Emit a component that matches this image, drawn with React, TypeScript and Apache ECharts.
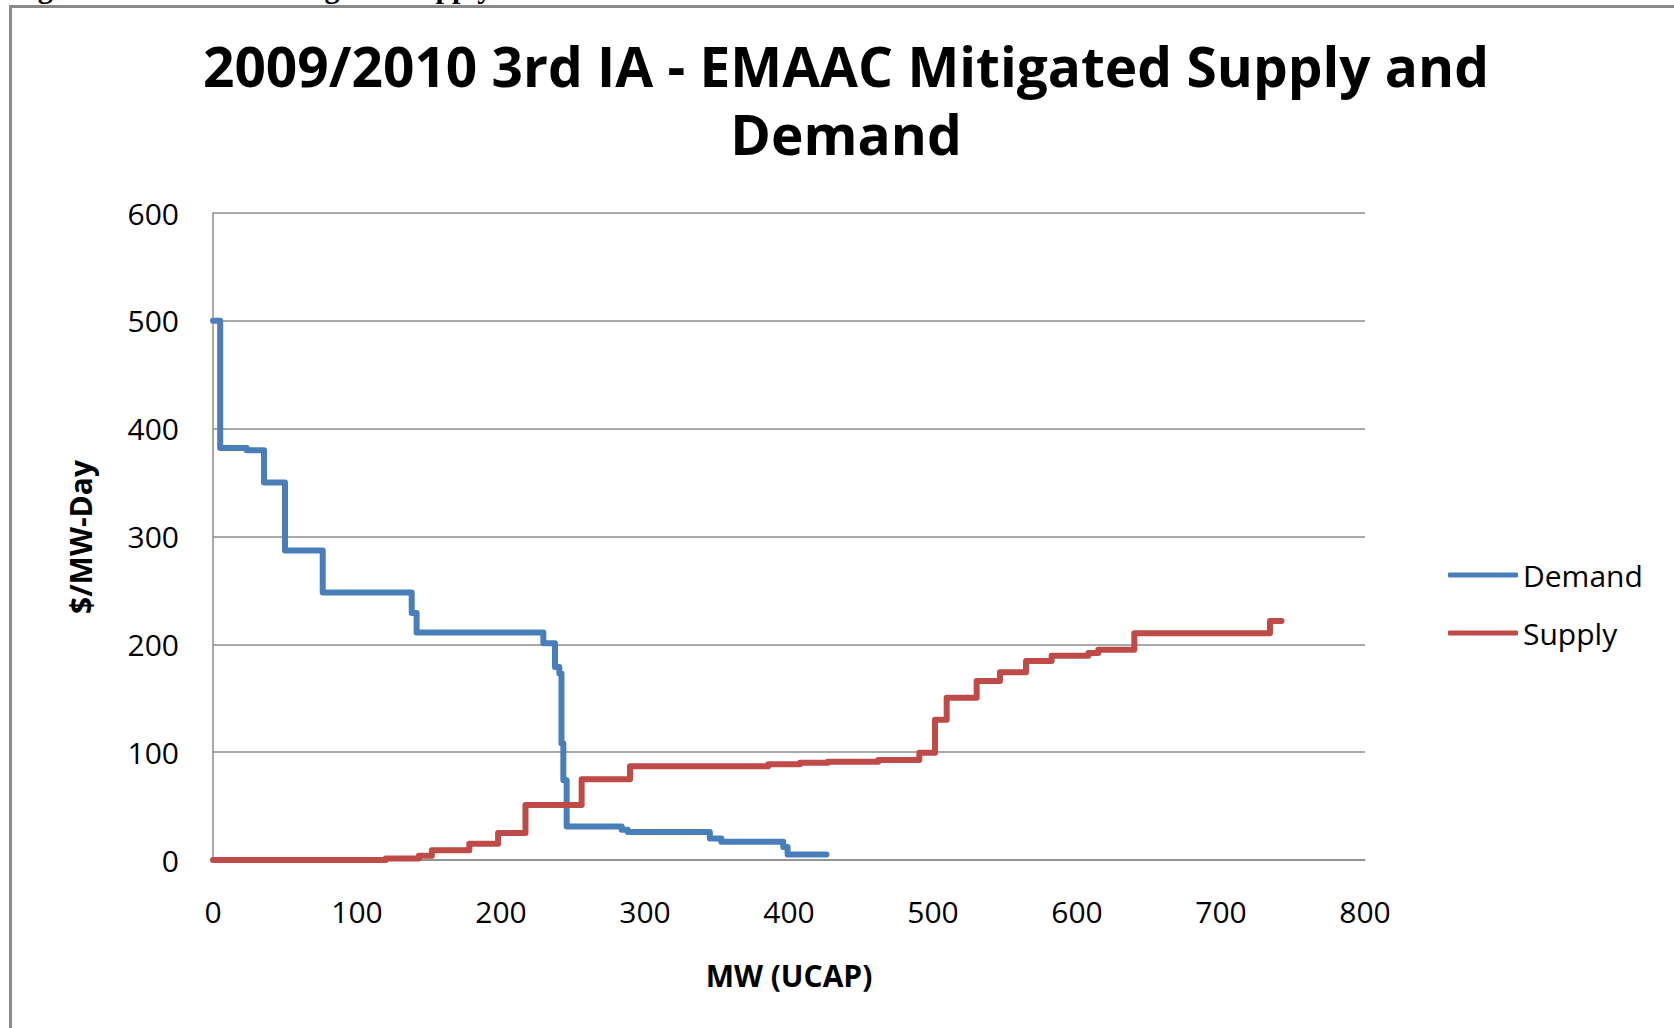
import React, { useEffect, useRef } from "react";
import * as echarts from "echarts";

const titleLines = ["2009/2010 3rd IA - EMAAC Mitigated Supply and", "Demand"];
const captionText = "Figure 11: EMAAC Mitigated Supply and Demand";
const xAxisTitle = "MW (UCAP)";
const yAxisTitle = "$/MW-Day";
const seriesNames = ["Demand", "Supply"];

const demandMW = [0, 5, 23.4, 35.4, 50, 76.2, 138, 141.4, 229.4, 237.5, 240.5, 242, 243.3, 245.6, 283.8, 288, 345, 353, 396, 399, 426];
const demandPrice = [500, 382, 380, 350, 287, 248, 229, 211, 201, 179, 173, 108, 74, 31, 28, 26, 20, 17, 12, 5, 5];

const supplyMW = [0, 120, 143, 152, 178, 198, 217, 256, 289.6, 385.6, 407.6, 427, 462, 490.5, 501.4, 509.5, 530.3, 546.5, 564.6, 582.4, 607.9, 614.8, 639.8, 734, 742];
const supplyPrice = [0, 1.5, 4, 9, 15, 25, 51, 75, 87, 88.7, 90.3, 91.2, 92.7, 99.5, 130, 150.5, 166, 174, 184.5, 189.5, 192, 195, 210.3, 221.6, 221.6];

const pairs = (xs: number[], ys: number[]) => xs.map((x, i) => [x, ys[i]]);

export default function App() {
  const ref = useRef<HTMLDivElement>(null);
  useEffect(() => {
    if (!ref.current) return;
    const chart = echarts.init(ref.current, undefined, { renderer: "svg" });
    const font = "Open Sans";
    chart.setOption({
      animation: false,
      backgroundColor: "#ffffff",
      title: {
        text: titleLines.join("\n"),
        left: 846,
        top: 31,
        textAlign: "center",
        padding: 0,
        textStyle: {
          fontFamily: font,
          fontWeight: "bold",
          fontSize: 55,
          lineHeight: 68,
          color: "#000000",
        },
      },
      legend: {
        data: seriesNames,
        orient: "vertical",
        left: 1448,
        top: 560,
        padding: 0,
        itemGap: 28,
        itemWidth: 70,
        itemHeight: 5,
        icon: "roundRect",
        textStyle: { fontFamily: font, fontSize: 30, color: "#000000" },
      },
      grid: { left: 213, top: 213, width: 1152, height: 647, containLabel: false },
      xAxis: {
        type: "value",
        min: 0,
        max: 800,
        interval: 100,
        splitLine: { show: false },
        axisTick: { show: false },
        axisLine: { show: true, lineStyle: { color: "#8c8c8c", width: 1.5 } },
        axisLabel: { fontFamily: font, fontSize: 30, color: "#000000", margin: 36 },
      },
      yAxis: {
        type: "value",
        min: 0,
        max: 600,
        interval: 100,
        splitLine: { show: true, lineStyle: { color: "#8c8c8c", width: 1.5 } },
        axisTick: { show: false },
        axisLine: { show: true, lineStyle: { color: "#8c8c8c", width: 1.5 } },
        axisLabel: { fontFamily: font, fontSize: 30, color: "#000000", margin: 34 },
      },
      graphic: [
        {
          type: "rect",
          shape: { x: 10.5, y: 6.5, width: 1700, height: 1100 },
          style: { fill: "none", stroke: "#8a8a8a", lineWidth: 3 },
          silent: true,
        },
        {
          type: "text",
          x: 11,
          y: -12.6,
          style: {
            text: captionText,
            fontFamily: "Liberation Serif",
            fontWeight: "bold",
            fontSize: 30,
            fill: "#000000",
            align: "left",
            verticalAlign: "middle",
          },
        },
        {
          type: "text",
          x: 789,
          y: 975,
          style: {
            text: xAxisTitle,
            fontFamily: font,
            fontWeight: "bold",
            fontSize: 30,
            fill: "#000000",
            align: "center",
            verticalAlign: "middle",
          },
        },
        {
          type: "text",
          x: 80,
          y: 537,
          rotation: Math.PI / 2,
          style: {
            text: yAxisTitle,
            fontFamily: font,
            fontWeight: "bold",
            fontSize: 30,
            fill: "#000000",
            align: "center",
            verticalAlign: "middle",
          },
        },
      ],
      series: [
        {
          name: seriesNames[0],
          type: "line",
          step: "end",
          symbol: "none",
          data: pairs(demandMW, demandPrice),
          color: "#4a7ebb",
          lineStyle: { width: 6, color: "#4a7ebb", cap: "round", join: "round" },
        },
        {
          name: seriesNames[1],
          type: "line",
          step: "end",
          symbol: "none",
          data: pairs(supplyMW, supplyPrice),
          color: "#be4b48",
          lineStyle: { width: 6, color: "#be4b48", cap: "round", join: "round" },
        },
      ],
    });
    return () => chart.dispose();
  }, []);
  return (
    <div
      ref={ref}
      style={{ position: "fixed", left: 0, top: 0, width: 1674, height: 1028, background: "#fff" }}
    />
  );
}
